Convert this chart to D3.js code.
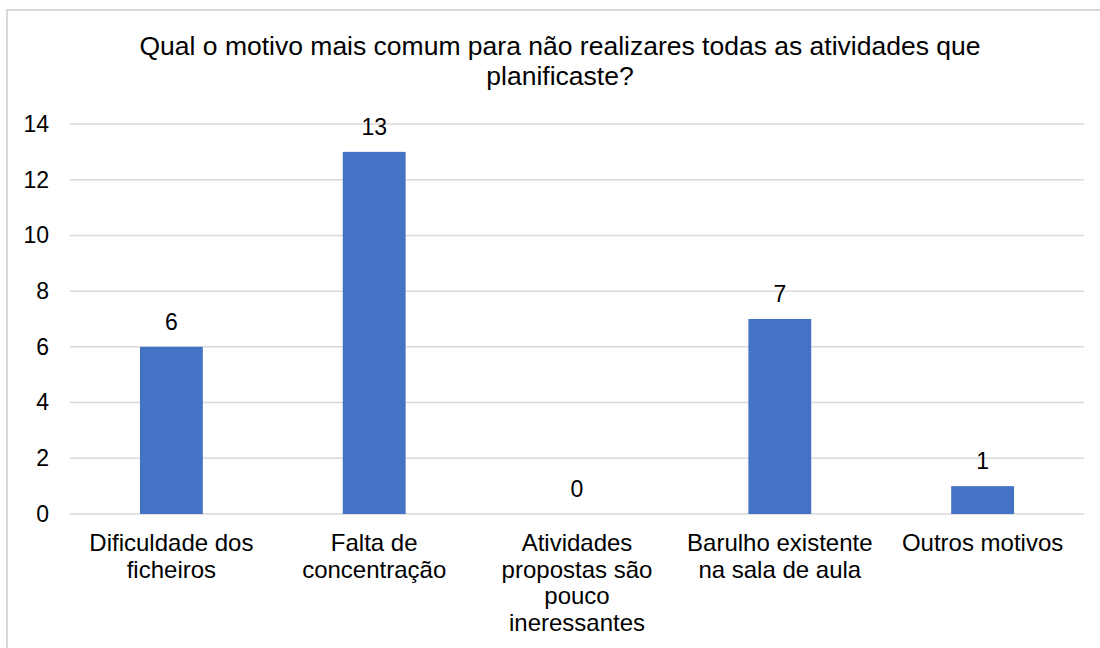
<!DOCTYPE html>
<html>
<head>
<meta charset="utf-8">
<script src="https://cdn.jsdelivr.net/npm/d3@7"></script>
<style>
html,body{margin:0;padding:0;background:#fff;}
svg text{font-family:"Liberation Sans",Arial,sans-serif;fill:#000;}
</style>
</head>
<body>
<svg id="chart" width="1100" height="648"></svg>
<script>
const categories = [
  ["Dificuldade dos", "ficheiros"],
  ["Falta de", "concentração"],
  ["Atividades", "propostas são", "pouco", "ineressantes"],
  ["Barulho existente", "na sala de aula"],
  ["Outros motivos"]
];
const values = [6, 13, 0, 7, 1];
const yTicks = [0, 2, 4, 6, 8, 10, 12, 14];
const titleLines = ["Qual o motivo mais comum para não realizares todas as atividades que", "planificaste?"];

const svg = d3.select("#chart");
const W = 1100, H = 648;
const m = {left: 70, right: 16, top: 124, bottom: 134};

svg.append("rect").attr("x", 7).attr("y", 10).attr("width", W + 10).attr("height", H + 10)
  .attr("fill", "#fff").attr("stroke", "#d9d9d9").attr("stroke-width", 2);

const ids = categories.map((c, i) => i);
const x = d3.scaleBand().domain(ids).range([m.left, W - m.right]).paddingInner(0.69).paddingOuter(0.345);
const y = d3.scaleLinear().domain([0, 14]).range([H - m.bottom, m.top]);

// gridlines
svg.append("g").selectAll("line").data(yTicks).join("line")
  .attr("x1", m.left).attr("x2", W - m.right)
  .attr("y1", d => y(d)).attr("y2", d => y(d))
  .attr("stroke", "#d9d9d9").attr("stroke-width", 1.5);

// y axis labels
const yAxis = d3.axisLeft(y).tickValues(yTicks).tickSize(0).tickPadding(0);
const ga = svg.append("g").attr("transform", `translate(49,0)`).call(yAxis);
ga.select(".domain").remove();
ga.selectAll("text").attr("font-size", 23).attr("font-family", '"Liberation Sans",Arial,sans-serif').attr("fill", "#000");

// bars
svg.append("g").selectAll("rect").data(values).join("rect")
  .attr("x", (d, i) => x(i)).attr("width", x.bandwidth())
  .attr("y", d => y(d)).attr("height", d => y(0) - y(d))
  .attr("fill", "#4472c4");

// value labels
svg.append("g").selectAll("text").data(values).join("text")
  .attr("x", (d, i) => x(i) + x.bandwidth() / 2)
  .attr("y", d => y(d) - 17)
  .attr("text-anchor", "middle").attr("font-size", 23)
  .text(d => d);

// category labels
const cg = svg.append("g").selectAll("text").data(categories).join("text")
  .attr("text-anchor", "middle").attr("font-size", 24)
  .attr("x", (d, i) => x(i) + x.bandwidth() / 2)
  .attr("y", 551);
cg.selectAll("tspan").data(d => d).join("tspan")
  .attr("x", function() { return d3.select(this.parentNode).attr("x"); })
  .attr("dy", (d, i) => i === 0 ? 0 : 26.7)
  .text(d => d);

// title
svg.append("text").attr("text-anchor", "middle").attr("font-size", 26.5)
  .selectAll("tspan").data(titleLines).join("tspan")
  .attr("x", 560).attr("y", (d, i) => 55 + i * 29.5)
  .text(d => d);
</script>
</body>
</html>
